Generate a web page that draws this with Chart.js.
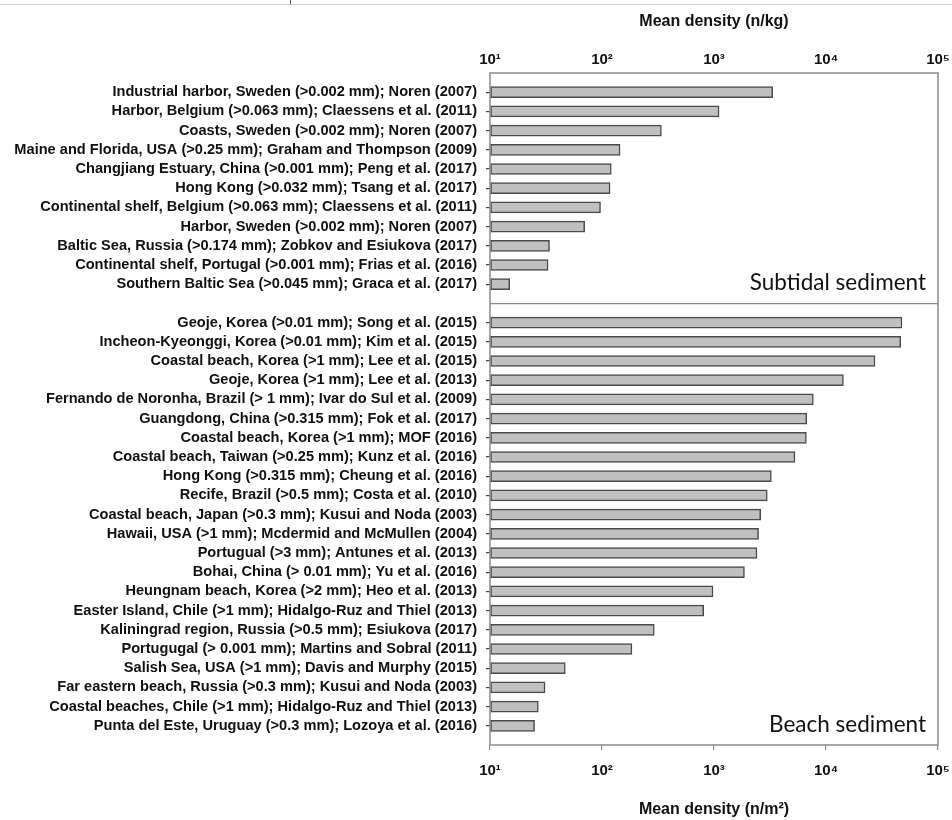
<!DOCTYPE html>
<html>
<head>
<meta charset="utf-8">
<script src="https://cdn.jsdelivr.net/npm/chart.js@4/dist/chart.umd.min.js"></script>
<style>
  html, body { margin: 0; padding: 0; background: #fff; }
  #wrap { width: 952px; height: 820px; position: relative; }
</style>
</head>
<body>
<div id="wrap"><canvas id="c"></canvas></div>
<script>
// Subtidal sediment studies (n/kg)
const subtidalLabels = [
  'Industrial harbor, Sweden (>0.002 mm); Noren (2007)',
  'Harbor, Belgium (>0.063 mm); Claessens et al. (2011)',
  'Coasts, Sweden (>0.002 mm); Noren (2007)',
  'Maine and Florida, USA (>0.25 mm); Graham and Thompson (2009)',
  'Changjiang Estuary, China (>0.001 mm); Peng et al. (2017)',
  'Hong Kong (>0.032 mm); Tsang et al. (2017)',
  'Continental shelf, Belgium (>0.063 mm); Claessens et al. (2011)',
  'Harbor, Sweden (>0.002 mm); Noren (2007)',
  'Baltic Sea, Russia (>0.174 mm); Zobkov and Esiukova (2017)',
  'Continental shelf, Portugal (>0.001 mm); Frias et al. (2016)',
  'Southern Baltic Sea (>0.045 mm); Graca et al. (2017)'
];
const subtidalValues = [3340, 1110, 339, 145, 121, 118, 97, 70, 34, 33, 15];

// Beach sediment studies (n/m2)
const beachLabels = [
  'Geoje, Korea (>0.01 mm); Song et al. (2015)',
  'Incheon-Kyeonggi, Korea (>0.01 mm); Kim et al. (2015)',
  'Coastal beach, Korea (>1 mm); Lee et al. (2015)',
  'Geoje, Korea (>1 mm); Lee et al. (2013)',
  'Fernando de Noronha, Brazil (> 1 mm); Ivar do Sul et al. (2009)',
  'Guangdong, China (>0.315 mm); Fok et al. (2017)',
  'Coastal beach, Korea (>1 mm); MOF (2016)',
  'Coastal beach, Taiwan (>0.25 mm); Kunz et al. (2016)',
  'Hong Kong (>0.315 mm); Cheung et al. (2016)',
  'Recife, Brazil (>0.5 mm); Costa et al. (2010)',
  'Coastal beach, Japan (>0.3 mm); Kusui and Noda (2003)',
  'Hawaii, USA (>1 mm); Mcdermid and McMullen (2004)',
  'Portugual (>3 mm); Antunes et al. (2013)',
  'Bohai, China (> 0.01 mm); Yu et al. (2016)',
  'Heungnam beach, Korea (>2 mm); Heo et al. (2013)',
  'Easter Island, Chile (>1 mm); Hidalgo-Ruz and Thiel (2013)',
  'Kaliningrad region, Russia (>0.5 mm); Esiukova (2017)',
  'Portugugal (> 0.001 mm); Martins and Sobral (2011)',
  'Salish Sea, USA (>1 mm); Davis and Murphy (2015)',
  'Far eastern beach, Russia (>0.3 mm); Kusui and Noda (2003)',
  'Coastal beaches, Chile (>1 mm); Hidalgo-Ruz and Thiel (2013)',
  'Punta del Este, Uruguay (>0.3 mm); Lozoya et al. (2016)'
];
const beachValues = [47700, 46500, 27400, 14300, 7710, 6730, 6680, 5280, 3250, 2990,
                     2610, 2500, 2420, 1870, 980, 809, 293, 185, 47, 31, 27, 25];

const decadeTicks = [10, 100, 1000, 10000, 100000];
const tickText = ['10\u00B9', '10\u00B2', '10\u00B3', '10\u2074', '10\u2075'];
const panelNames = ['Subtidal sediment', 'Beach sediment'];
const axisTitles = ['Mean density (n/kg)', 'Mean density (n/m\u00B2)'];

// One category axis: an empty slot above, between and below the two panels
const allLabels = [''].concat(subtidalLabels, [''], beachLabels, ['']);
const allValues = [null].concat(subtidalValues, [null], beachValues, [null]);
const dividerIndex = subtidalLabels.length + 1;

const decadeFormat = (v) => {
  const i = decadeTicks.indexOf(v);
  return i >= 0 ? tickText[i] : '';
};

const framePlugin = {
  id: 'frame',
  beforeDraw(chart) {
    const ctx = chart.ctx;
    ctx.save();
    ctx.strokeStyle = '#d0d0d0';
    ctx.lineWidth = 1;
    ctx.beginPath();
    ctx.moveTo(0, 4.5);
    ctx.lineTo(chart.width, 4.5);
    ctx.stroke();
    ctx.strokeStyle = '#555';
    ctx.beginPath();
    ctx.moveTo(290.5, 0);
    ctx.lineTo(290.5, 4);
    ctx.stroke();
    ctx.restore();
  },
  afterDatasetsDraw(chart) {
    const {ctx, chartArea: a, scales} = chart;
    ctx.save();
    ctx.strokeStyle = '#8c8c8c';
    ctx.lineWidth = 1.5;
    ctx.strokeRect(a.left, a.top, a.right - a.left, a.bottom - a.top);
    ctx.fillStyle = '#111';
    ctx.font = '22.5px Lato';
    ctx.textAlign = 'right';
    ctx.textBaseline = 'alphabetic';
    const dy = scales.y.getPixelForValue(dividerIndex);
    ctx.fillText(panelNames[0], a.right - 12, dy - 13);
    ctx.fillText(panelNames[1], a.right - 12, a.bottom - 13);
    ctx.restore();
  }
};

new Chart(document.getElementById('c'), {
  type: 'bar',
  data: {
    labels: allLabels,
    datasets: [{
      data: allValues,
      xAxisID: 'x',
      base: 10,
      backgroundColor: '#c0c0c0',
      borderColor: '#4a4a4a',
      borderWidth: 1.5,
      borderSkipped: false,
      barThickness: 11
    }]
  },
  options: {
    indexAxis: 'y',
    responsive: true,
    maintainAspectRatio: false,
    animation: false,
    layout: { padding: { right: 14, left: 0, top: 0, bottom: 0 } },
    plugins: { legend: { display: false }, tooltip: { enabled: false } },
    scales: {
      y: {
        type: 'category',
        offset: false,
        border: { display: false },
        grid: {
          offset: false,
          drawOnChartArea: true,
          drawTicks: true,
          tickLength: 4,
          lineWidth: 1.2,
          color: (c) => c.index === dividerIndex ? '#8c8c8c' : 'rgba(0,0,0,0)',
          tickColor: (c) => allLabels[c.index] ? '#444' : 'rgba(0,0,0,0)'
        },
        ticks: {
          autoSkip: false,
          padding: 9,
          color: '#111',
          font: { family: 'Liberation Sans', weight: 'bold', size: 14.6 }
        },
        afterFit(s) { s.width = 490; }
      },
      x: {
        type: 'logarithmic',
        position: 'bottom',
        min: 10,
        max: 100000,
        border: { display: false },
        afterBuildTicks(s) { s.ticks = decadeTicks.map(v => ({ value: v })); },
        grid: {
          drawOnChartArea: false,
          drawTicks: true,
          tickLength: 5,
          tickColor: '#8c8c8c',
          lineWidth: 1.2
        },
        ticks: {
          callback: decadeFormat,
          padding: 12,
          color: '#111',
          maxRotation: 0,
          font: { family: 'Liberation Sans', weight: 'bold', size: 15 }
        },
        title: {
          display: true,
          text: axisTitles[1],
          color: '#111',
          padding: { top: 1, bottom: 1 },
          font: { family: 'Liberation Sans', weight: 'bold', size: 16 }
        },
        afterFit(s) { s.height = 75; s.paddingLeft = 0; s.paddingRight = 0; }
      },
      x2: {
        type: 'logarithmic',
        position: 'top',
        min: 10,
        max: 100000,
        border: { display: false },
        afterBuildTicks(s) { s.ticks = decadeTicks.map(v => ({ value: v })); },
        grid: { drawOnChartArea: false, drawTicks: false },
        ticks: {
          callback: decadeFormat,
          padding: 4,
          color: '#111',
          maxRotation: 0,
          font: { family: 'Liberation Sans', weight: 'bold', size: 15 }
        },
        title: {
          display: true,
          text: axisTitles[0],
          color: '#111',
          padding: { top: 12, bottom: 12 },
          font: { family: 'Liberation Sans', weight: 'bold', size: 16 }
        },
        afterFit(s) { s.height = 73; s.paddingLeft = 0; s.paddingRight = 0; }
      }
    }
  },
  plugins: [framePlugin]
});
</script>
</body>
</html>
